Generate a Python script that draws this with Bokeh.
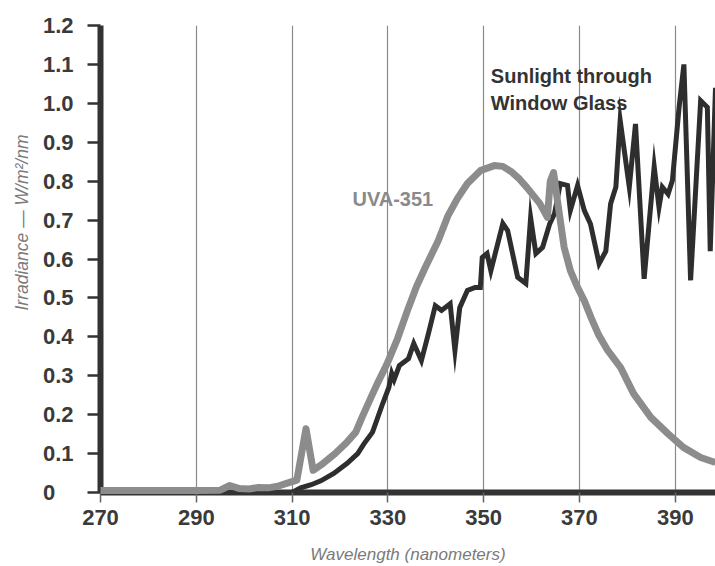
from bokeh.plotting import figure
from bokeh.models import Range1d, FixedTicker, Label, Title, CustomJSTickFormatter
from bokeh.embed import file_html
from bokeh.resources import INLINE

# UVA-351 lamp spectrum (wavelength in nm, irradiance in W/m^2/nm)
uva_nm = [270, 280, 290, 295, 297, 299, 301, 303, 305, 307, 309, 311,
          312.9, 314.4, 316.5, 319, 321.5, 323.3, 324.6, 326.5, 328, 329.8,
          332, 334.3, 336, 337.8, 340.5, 342.5, 344.5, 346.6, 349.3, 352.2,
          354, 355.7, 357.5, 359, 361.7, 363.3, 363.9, 364.6, 365.4, 366.8,
          368.1, 369.6, 371, 372.4, 374, 375.9, 378.6, 381.3, 384.9, 388.4,
          391.7, 395.3, 398.4]
uva_val = [0.005, 0.005, 0.005, 0.006, 0.018, 0.010, 0.009, 0.013, 0.012,
           0.016, 0.024, 0.032, 0.164, 0.057, 0.075, 0.100, 0.130, 0.155,
           0.193, 0.245, 0.285, 0.330, 0.395, 0.475, 0.530, 0.578, 0.647,
           0.710, 0.755, 0.794, 0.827, 0.840, 0.838, 0.825, 0.805, 0.784,
           0.743, 0.707, 0.800, 0.822, 0.750, 0.630, 0.570, 0.527, 0.493,
           0.450, 0.405, 0.365, 0.321, 0.254, 0.193, 0.152, 0.116, 0.090,
           0.077]

# Sunlight filtered by window glass
sun_nm = [270, 310, 311.8, 314, 316, 318.7, 321.5, 323.7, 325, 326.8, 328.9,
          330.2, 330.8, 331.3, 332.4, 334.3, 335.4, 337, 338.5, 339.9, 341.2,
          343, 344, 345, 346.6, 348.2, 349.3, 349.7, 350.7, 351.5, 354, 355,
          357.1, 358.8, 359.8, 360.9, 362.3, 363.8, 364.8, 366, 367.5, 368.1,
          369.6, 371, 372.3, 374.1, 375.5, 376.5, 377.6, 378.5, 380.4, 381.7,
          383.5, 385.6, 386.6, 387.3, 388.5, 389.4, 390.8, 391.8, 393.2,
          395.3, 396.7, 397.3, 398.4]
sun_val = [0.0, 0.0, 0.012, 0.020, 0.030, 0.049, 0.075, 0.100, 0.125, 0.155,
           0.228, 0.270, 0.306, 0.290, 0.326, 0.344, 0.383, 0.339, 0.410,
           0.480, 0.468, 0.485, 0.365, 0.475, 0.519, 0.527, 0.527, 0.604,
           0.614, 0.570, 0.691, 0.673, 0.553, 0.537, 0.706, 0.614, 0.630,
           0.691, 0.717, 0.794, 0.789, 0.725, 0.789, 0.725, 0.690, 0.588,
           0.620, 0.742, 0.785, 0.956, 0.785, 0.947, 0.549, 0.837, 0.733,
           0.785, 0.767, 0.802, 0.990, 1.100, 0.545, 1.007, 0.990, 0.620,
           1.040]

x_ticks = [270, 290, 310, 330, 350, 370, 390]
y_ticks = [0, 0.1, 0.2, 0.3, 0.4, 0.5, 0.6, 0.7, 0.8, 0.9, 1.0, 1.1, 1.2]

FONT = "Liberation Sans"
DARK = "#333333"
LIGHT = "#8c8c8c"
TICK_TEXT = "#3a3a3a"
TITLE_TEXT = "#7a7a7a"

p = figure(width=715, height=566, output_backend="svg", toolbar_location=None,
           x_range=Range1d(270, 398.4), y_range=Range1d(0, 1.2),
           min_border_left=100, min_border_right=0, min_border_top=25,
           min_border_bottom=74)
p.outline_line_color = None
p.background_fill_color = "white"
p.border_fill_color = "white"

# vertical grid only
p.ygrid.grid_line_color = None
p.xgrid.ticker = FixedTicker(ticks=x_ticks[1:])
p.xgrid.grid_line_color = "#8a8a8a"
p.xgrid.grid_line_width = 1.2

# x axis
p.xaxis.ticker = FixedTicker(ticks=x_ticks)
p.xaxis.axis_line_color = DARK
p.xaxis.axis_line_width = 6
p.xaxis.major_tick_out = 10
p.xaxis.major_tick_in = 0
p.xaxis.major_tick_line_color = "#666666"
p.xaxis.major_tick_line_width = 1.5
p.xaxis.minor_tick_line_color = None
p.xaxis.major_label_standoff = 7
p.xaxis.major_label_text_font = FONT
p.xaxis.major_label_text_font_style = "bold"
p.xaxis.major_label_text_font_size = "22px"
p.xaxis.major_label_text_color = TICK_TEXT
p.xaxis.axis_label = "Wavelength (nanometers)"
p.xaxis.axis_label_text_font = FONT
p.xaxis.axis_label_text_font_style = "italic"
p.xaxis.axis_label_text_font_size = "17px"
p.xaxis.axis_label_text_color = TITLE_TEXT
p.xaxis.axis_label_standoff = 17

# y axis: one decimal everywhere except a bare zero, padded (and closed with
# a zero-width space so the padding is kept) to the width of "0.0"
p.yaxis.ticker = FixedTicker(ticks=y_ticks)
p.yaxis.formatter = CustomJSTickFormatter(
    code="return tick == 0 ? '0\u2008\u2007\u200b' : tick.toFixed(1);")
p.yaxis.axis_line_color = DARK
p.yaxis.axis_line_width = 6
p.yaxis.major_tick_out = 13
p.yaxis.major_tick_in = 0
p.yaxis.major_tick_line_color = DARK
p.yaxis.major_tick_line_width = 2.5
p.yaxis.minor_tick_line_color = None
p.yaxis.major_label_standoff = 14
p.yaxis.major_label_text_font = FONT
p.yaxis.major_label_text_font_style = "bold"
p.yaxis.major_label_text_font_size = "22px"
p.yaxis.major_label_text_color = TICK_TEXT

p.add_layout(Title(text="Irradiance — W/m²/nm", align="left", offset=182,
                   text_font=FONT, text_font_style="italic",
                   text_font_size="17.5px", text_color=TITLE_TEXT,
                   standoff=16), "left")

# spectra
p.line(sun_nm, sun_val, line_color="#2e2e2e", line_width=5,
       line_join="miter")
p.line(uva_nm, uva_val, line_color=LIGHT, line_width=7,
       line_join="round", level="overlay")

# series captions
p.add_layout(Label(x=322.6, y=0.753, text="UVA-351", text_align="left",
                   text_baseline="middle", text_font=FONT,
                   text_font_style="bold", text_font_size="20px",
                   text_color="#8a8a8a"))
p.add_layout(Label(x=351.5, y=1.071, text="Sunlight through",
                   text_align="left", text_baseline="middle",
                   text_font=FONT, text_font_style="bold",
                   text_font_size="20px", text_color=DARK))
p.add_layout(Label(x=351.5, y=1.0, text="Window Glass",
                   text_align="left", text_baseline="middle",
                   text_font=FONT, text_font_style="bold",
                   text_font_size="20px", text_color=DARK))

open("out.html", "w").write(file_html(p, INLINE))
